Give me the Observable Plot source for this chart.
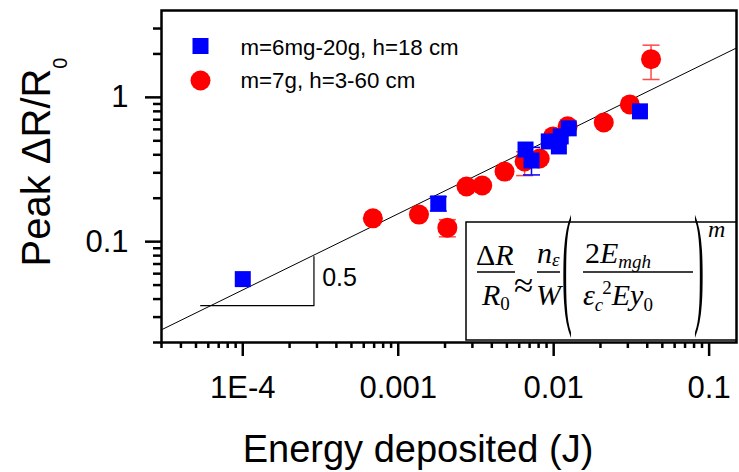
<!DOCTYPE html>
<html><head><meta charset="utf-8">
<script src="https://cdn.jsdelivr.net/npm/d3@7"></script>
<script src="https://cdn.jsdelivr.net/npm/@observablehq/plot@0.6"></script>
<style>body{margin:0;background:#fff} svg{display:block}</style>
</head><body><div id="chart"></div>
<script>
// ---- data ----
const seriesNames = ["m=6mg-20g, h=18 cm", "m=7g, h=3-60 cm"];
const blueEnergy = [1.0e-4, 1.81e-3, 6.59e-3, 7.2e-3, 9.3e-3, 0.0108, 0.0111, 0.0125, 0.0359];
const blueDR     = [0.055, 0.184, 0.435, 0.365, 0.495, 0.457, 0.536, 0.61, 0.80];
const blueErrX   = [1.81e-3, 7.2e-3];
const blueErrLo  = [0.163, 0.29];
const blueErrHi  = [0.205, 0.45];
const redEnergy = [6.87e-4, 1.36e-3, 2.07e-3, 2.75e-3, 3.47e-3, 4.83e-3, 6.5e-3, 8.13e-3, 9.9e-3, 0.0123, 0.021, 0.0309, 0.0423];
const redDR     = [0.145, 0.154, 0.125, 0.241, 0.245, 0.306, 0.36, 0.377, 0.536, 0.63, 0.67, 0.894, 1.84];
const redErrX   = [2.07e-3, 6.5e-3, 0.0423];
const redErrLo  = [0.108, 0.287, 1.33];
const redErrHi  = [0.142, 0.42, 2.3];
const fitEnergy = [3e-5, 0.15];
const fitDR     = [0.0245, 2.2];
const slopeEnergy = [5.36e-5, 2.87e-4, 2.87e-4];
const slopeDR     = [0.036, 0.036, 0.0787];
const slopeLabel  = "0.5";
const xMajor = [1e-4, 1e-3, 1e-2, 1e-1];
const xLabels = ["1E-4", "0.001", "0.01", "0.1"];
const yMajor = [0.1, 1];
const yLabels = ["0.1", "1"];
const xMinor = [3e-5,4e-5,5e-5,6e-5,7e-5,8e-5,9e-5, 2e-4,3e-4,4e-4,5e-4,6e-4,7e-4,8e-4,9e-4,
                2e-3,3e-3,4e-3,5e-3,6e-3,7e-3,8e-3,9e-3, 2e-2,3e-2,4e-2,5e-2,6e-2,7e-2,8e-2,9e-2];
const yMinor = [0.02,0.03,0.04,0.05,0.06,0.07,0.08,0.09, 0.2,0.3,0.4,0.5,0.6,0.7,0.8,0.9, 2,3];
const xTitle = "Energy deposited (J)";

// ---- tables ----
const blue = blueEnergy.map((e, i) => ({e, r: blueDR[i]}));
const red = redEnergy.map((e, i) => ({e, r: redDR[i]}));
const blueErr = blueErrX.map((e, i) => ({e, lo: blueErrLo[i], hi: blueErrHi[i]}));
const redErr = redErrX.map((e, i) => ({e, lo: redErrLo[i], hi: redErrHi[i]}));
const fit = fitEnergy.map((e, i) => ({e, r: fitDR[i]}));
const slope = slopeEnergy.map((e, i) => ({e, r: slopeDR[i]}));
const capSym = {draw(ctx, size) { const w = Math.sqrt(size / Math.PI); ctx.moveTo(-w, 0); ctx.lineTo(w, 0); }};
const caps = (arr) => arr.flatMap(d => [{e: d.e, r: d.lo}, {e: d.e, r: d.hi}]);

const font = "'Liberation Sans', Arial, sans-serif";
const redCol = "#ff0000", blueCol = "#0000ff", errRed = "#ff4a4a";

const plot = Plot.plot({
  width: 739, height: 472,
  marginLeft: 161, marginRight: 3, marginTop: 10, marginBottom: 130,
  style: {fontFamily: font, color: "#000", background: "#fff", overflow: "visible"},
  x: {type: "log", domain: [3e-5, 0.15]},
  y: {type: "log", domain: [0.02, 4]},
  marks: [
    Plot.line(fit, {x: "e", y: "r", stroke: "#000", strokeWidth: 1}),
    Plot.line(slope, {x: "e", y: "r", stroke: "#000", strokeWidth: 1.2}),
    Plot.text([slopeLabel], {x: 3.24e-4, y: 0.0562, text: d => d, textAnchor: "start", fontSize: 25, fill: "#000"}),
    Plot.ruleX(redErr, {x: "e", y1: "lo", y2: "hi", stroke: errRed, strokeWidth: 1.5}),
    Plot.dot(caps(redErr), {x: "e", y: "r", symbol: capSym, r: 8.5, stroke: errRed, strokeWidth: 1.5}),
    Plot.dot(red, {x: "e", y: "r", r: 10, fill: redCol, stroke: "none"}),
    Plot.ruleX(blueErr, {x: "e", y1: "lo", y2: "hi", stroke: blueCol, strokeWidth: 1.5}),
    Plot.dot(caps(blueErr), {x: "e", y: "r", symbol: capSym, r: 8.5, stroke: blueCol, strokeWidth: 1.5}),
    Plot.dot(blue, {x: "e", y: "r", symbol: "square", r: 9.03, fill: blueCol, stroke: "none"}),
    Plot.axisX(xMinor, {tickSize: 6, tickFormat: () => "", strokeWidth: 2.5, label: null}),
    Plot.axisX(xMajor, {tickSize: 14, tickPadding: 19, tickFormat: d => xLabels[xMajor.indexOf(d)], fontSize: 31, strokeWidth: 2.5, label: null}),
    Plot.axisY(yMinor, {tickSize: 8, tickFormat: () => "", strokeWidth: 2.5, label: null}),
    Plot.axisY(yMajor, {tickSize: 16, tickPadding: 17, tickFormat: d => yLabels[yMajor.indexOf(d)], fontSize: 31, strokeWidth: 2.5, label: null}),
    Plot.frame({stroke: "#000", strokeWidth: 2.5}),
    Plot.text([xTitle], {frameAnchor: "bottom", dx: -31, dy: 107, text: d => d, fontSize: 38, lineAnchor: "middle", fill: "#000"}),
    Plot.dot([seriesNames[0]], {frameAnchor: "top-left", dx: 39, dy: 35.5, symbol: "square", r: 9.03, fill: blueCol}),
    Plot.dot([seriesNames[1]], {frameAnchor: "top-left", dx: 39, dy: 70, r: 10, fill: redCol}),
    Plot.text([seriesNames[0]], {frameAnchor: "top-left", dx: 79, dy: 37, text: d => d, textAnchor: "start", lineAnchor: "middle", fontSize: 22.3, fill: "#000"}),
    Plot.text([seriesNames[1]], {frameAnchor: "top-left", dx: 79, dy: 70, text: d => d, textAnchor: "start", lineAnchor: "middle", fontSize: 22.3, fill: "#000"})
  ]
});
document.getElementById("chart").appendChild(plot);

// ---- annotations: y title and equation ----
const svg = d3.select(plot);
const yt = svg.append("text").attr("transform", "translate(50,162) rotate(-90)")
  .attr("text-anchor", "middle").attr("font-family", font).attr("font-size", 40).attr("fill", "#000");
yt.append("tspan").text("Peak ΔR/R");
yt.append("tspan").attr("font-size", 20).attr("dy", 17).text("0");

const serif = "'Liberation Serif', 'Times New Roman', serif";
const eq = svg.append("g").attr("font-family", serif).attr("fill", "#000").attr("text-anchor", "start");
eq.append("rect").attr("x", 466).attr("y", 222).attr("width", 270).attr("height", 118)
  .attr("fill", "#fff").attr("stroke", "#000").attr("stroke-width", 1.5);
function t(x, y, size, parts) {
  const el = eq.append("text").attr("x", x).attr("y", y).attr("font-size", size).attr("text-anchor", "start");
  parts.forEach(p => {
    const s = el.append("tspan").text(p.s);
    if (p.i) s.attr("font-style", "italic");
    if (p.fs) s.attr("font-size", p.fs);
    if (p.dy) s.attr("dy", p.dy);
    if (p.dx) s.attr("dx", p.dx);
  });
  return el;
}
const bar = (x1, x2, y) => eq.append("line").attr("x1", x1).attr("x2", x2).attr("y1", y).attr("y2", y).attr("stroke", "#000").attr("stroke-width", 1.5);
// ΔR / R0
t(476, 265, 30, [{s: "Δ"}, {s: "R", i: true}]);
bar(477, 515, 272);
t(482, 305, 30, [{s: "R", i: true}, {s: "0", fs: 19, dy: 5}]);
t(514, 297, 35, [{s: "≈"}]);
// n_eps / W
t(537, 263, 30, [{s: "n", i: true}, {s: "ε", i: true, fs: 19, dy: 3}]);
bar(537, 560, 272);
t(536, 305, 30, [{s: "W", i: true}]);
// big parens
eq.append("text").attr("transform", "translate(562,309) scale(1,4.5)").attr("font-size", 30).attr("text-anchor", "start").text("(");
eq.append("text").attr("transform", "translate(694,309) scale(1,4.5)").attr("font-size", 30).attr("text-anchor", "start").text(")");
// 2E_mgh / eps_c^2 E y0
t(585, 263, 30, [{s: "2"}, {s: "E", i: true}, {s: "mgh", i: true, fs: 19, dy: 5}]);
bar(583, 693, 272);
t(583, 305, 30, [{s: "ε", i: true}, {s: "c", i: true, fs: 19, dy: 6}, {s: "2", fs: 19, dy: -17, dx: -1}, {s: "E", i: true, dy: 11}, {s: "y", i: true}, {s: "0", fs: 19, dy: 6}]);
t(708, 237, 24, [{s: "m", i: true}]);
</script></body></html>
